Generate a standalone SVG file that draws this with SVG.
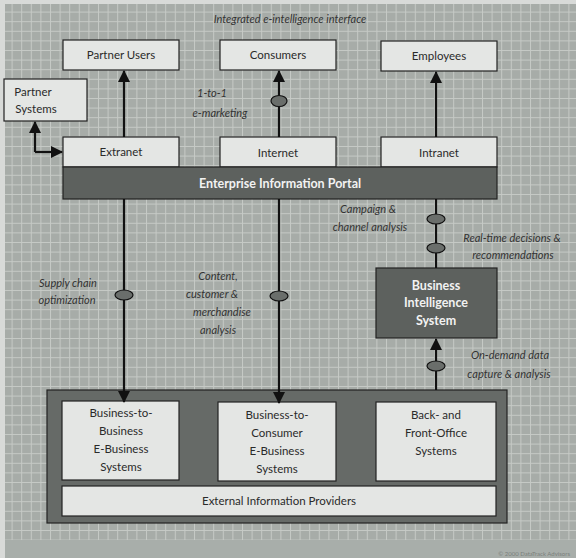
<svg xmlns="http://www.w3.org/2000/svg" width="576" height="558" viewBox="0 0 576 558">
<defs>
<pattern id="grid" x="2" y="2" width="9.6" height="9.6" patternUnits="userSpaceOnUse">
<rect width="9.6" height="9.6" fill="#a7aca8"/>
<path d="M0 0.5H9.6M0.5 0V9.6" stroke="#c6cac6" stroke-width="1"/>
</pattern>
<marker id="ah" viewBox="0 0 12 12" refX="11" refY="6" markerWidth="12" markerHeight="13" markerUnits="userSpaceOnUse" orient="auto">
<path d="M0 0L12 6L0 12Z" fill="#111"/>
</marker>
<style>
.lt{fill:#e4e6e4;stroke:#222;stroke-width:1.2}
.dk{fill:#5d615e;stroke:#222;stroke-width:1.2}
.t{font-family:Lato,"Open Sans","DejaVu Sans",sans-serif;font-size:11.5px;fill:#2a2a2a;text-anchor:middle}
.w{font-family:Lato,"Open Sans","DejaVu Sans",sans-serif;font-size:12.5px;font-weight:bold;fill:#f2f2f2;text-anchor:middle}
.i{font-family:Lato,"Open Sans","DejaVu Sans",sans-serif;font-size:11px;font-style:italic;fill:#333;text-anchor:middle}
.ln{stroke:#111;stroke-width:2.2;fill:none}
.el{fill:#6a6e6b;stroke:#111;stroke-width:1.2}
</style>
</defs>
<rect width="576" height="558" fill="#d8dad8"/>
<rect x="5" y="4" width="571" height="536" fill="url(#grid)"/>
<rect x="5" y="540" width="571" height="18" fill="#a8aeaa"/>
<text class="i" x="290" y="23">Integrated e-intelligence interface</text>

<g id="partner-users"><rect class="lt" x="63" y="40" width="116" height="30"/><text class="t" x="121" y="59">Partner Users</text></g>
<g id="consumers"><rect class="lt" x="220" y="40" width="116" height="30"/><text class="t" x="278" y="59">Consumers</text></g>
<g id="employees"><rect class="lt" x="381" y="41" width="116" height="30"/><text class="t" x="439" y="60">Employees</text></g>
<g id="partner-systems"><rect class="lt" x="4" y="79" width="83" height="42"/><text class="t" x="33" y="96">Partner</text><text class="t" x="36" y="113">Systems</text></g>
<g id="extranet"><rect class="lt" x="63" y="137" width="116" height="30"/><text class="t" x="121" y="156">Extranet</text></g>
<g id="internet"><rect class="lt" x="220" y="137" width="116" height="30"/><text class="t" x="278" y="157">Internet</text></g>
<g id="intranet"><rect class="lt" x="381" y="137" width="116" height="30"/><text class="t" x="439" y="157">Intranet</text></g>
<g id="eip"><rect class="dk" x="63" y="167" width="434" height="32"/><text class="w" x="280" y="188">Enterprise Information Portal</text></g>
<g id="bi"><rect class="dk" x="376" y="268" width="121" height="70"/><text class="w" x="436" y="290">Business</text><text class="w" x="436" y="307">Intelligence</text><text class="w" x="436" y="325">System</text></g>
<g id="ebusiness"><rect x="47" y="390" width="460" height="133" fill="#666a67" stroke="#222" stroke-width="1.2"/></g>
<g id="b2b"><rect class="lt" x="62" y="401" width="117" height="79"/><text class="t" x="121" y="417">Business-to-</text><text class="t" x="121" y="435">Business</text><text class="t" x="121" y="453">E-Business</text><text class="t" x="121" y="471">Systems</text></g>
<g id="b2c"><rect class="lt" x="218" y="402" width="118" height="79"/><text class="t" x="277" y="419">Business-to-</text><text class="t" x="277" y="437">Consumer</text><text class="t" x="277" y="455">E-Business</text><text class="t" x="277" y="473">Systems</text></g>
<g id="backfront"><rect class="lt" x="376" y="402" width="120" height="79"/><text class="t" x="436" y="419">Back- and</text><text class="t" x="436" y="437">Front-Office</text><text class="t" x="436" y="455">Systems</text></g>
<g id="external"><rect class="lt" x="62" y="486" width="434" height="30"/><text class="t" x="279" y="505">External Information Providers</text></g>

<g id="connectors">
<path class="ln" d="M124 137V71" marker-end="url(#ah)"/>
<path class="ln" d="M279 137V71" marker-end="url(#ah)"/>
<path class="ln" d="M436 137V72" marker-end="url(#ah)"/>
<path class="ln" d="M35 152V122" marker-end="url(#ah)"/>
<path class="ln" d="M35 152H62" marker-end="url(#ah)"/>
<path class="ln" d="M124 199V402" marker-end="url(#ah)"/>
<path class="ln" d="M279 199V403" marker-end="url(#ah)"/>
<path class="ln" d="M436 199V268"/>
<path class="ln" d="M436 390V339" marker-end="url(#ah)"/>
<ellipse class="el" cx="279" cy="101" rx="8" ry="5.5"/>
<ellipse class="el" cx="124" cy="295" rx="9" ry="5"/>
<ellipse class="el" cx="279" cy="296" rx="9" ry="5"/>
<ellipse class="el" cx="436" cy="219" rx="9" ry="5"/>
<ellipse class="el" cx="436" cy="248" rx="9" ry="5"/>
<ellipse class="el" cx="436" cy="366" rx="9" ry="5"/>
</g>

<g id="labels">
<text class="i" x="212" y="97">1-to-1</text>
<text class="i" x="220" y="117">e-marketing</text>
<text class="i" x="368" y="213">Campaign &amp;</text>
<text class="i" x="370" y="231">channel analysis</text>
<text class="i" x="512" y="242">Real-time decisions &amp;</text>
<text class="i" x="513" y="259">recommendations</text>
<text class="i" x="68" y="287">Supply chain</text>
<text class="i" x="67" y="304">optimization</text>
<text class="i" x="218" y="280">Content,</text>
<text class="i" x="212" y="298">customer &amp;</text>
<text class="i" x="222" y="316">merchandise</text>
<text class="i" x="218" y="334">analysis</text>
<text class="i" x="510" y="359">On-demand data</text>
<text class="i" x="509" y="378">capture &amp; analysis</text>
</g>
<text x="570" y="556" font-family="Lato,'DejaVu Sans',sans-serif" font-size="6" fill="#7a807c" text-anchor="end">© 2000 DataTrack Advisors</text>
</svg>
